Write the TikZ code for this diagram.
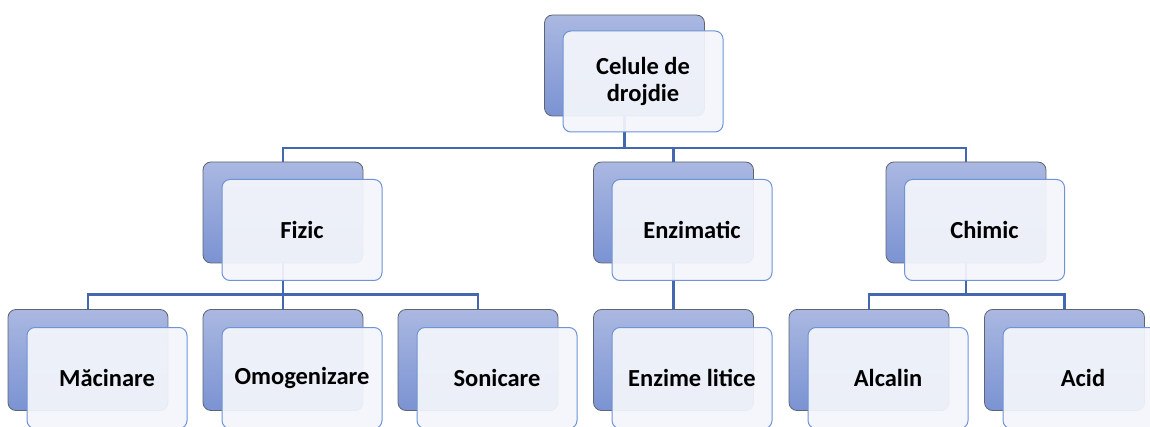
\documentclass[tikz,border=0pt]{standalone}
\usepackage{fontspec}
\setmainfont{Carlito}
\definecolor{backtop}{HTML}{AAB8E1}
\definecolor{backbot}{HTML}{7B93D3}
\definecolor{backborder}{HTML}{5E6470}
\definecolor{frontfill}{HTML}{F4F6FB}
\definecolor{frontborder}{HTML}{6E93D6}
\definecolor{linecol}{HTML}{4468B0}
\tikzset{
  backbox/.style={rounded corners=8pt, draw=backborder, line width=0.8pt,
    top color=backtop, bottom color=backbot, minimum width=160pt,
    minimum height=101pt, inner sep=0pt},
  frontbox/.style={rounded corners=8pt, draw=frontborder, line width=1pt,
    fill=frontfill, fill opacity=0.93, text opacity=1, minimum width=160pt,
    minimum height=101pt, inner sep=0pt, align=center,
    font=\bfseries\fontsize{24.5}{27}\selectfont},
  conn/.style={draw=linecol, line width=2.5pt}
}
\begin{document}
\begin{tikzpicture}[x=1pt, y=-1pt]
\useasboundingbox (0,0) rectangle (1150,427);
\fill[white] (0,0) rectangle (1150,427);
% back boxes
\node[backbox] (Tb) at (624.5,65.5) {};
\node[backbox] (Fb) at (283,212.5) {};
\node[backbox] (Eb) at (673.5,212.5) {};
\node[backbox] (Cb) at (966,212.5) {};
\node[backbox] (Mb) at (88,360) {};
\node[backbox] (Ob) at (283,360) {};
\node[backbox] (Sb) at (478,360) {};
\node[backbox] (Lb) at (673.5,360) {};
\node[backbox] (Ab) at (869,360) {};
\node[backbox] (Db) at (1064.5,360) {};
% buses
\coordinate (bus1) at (0,148);
\coordinate (bus2) at (0,294.5);
% connectors
\draw[conn] (Tb.south) -- (Tb.south |- bus1) -| (Fb.north);
\draw[conn] (Tb.south) -- (Tb.south |- bus1) -| (Eb.north);
\draw[conn] (Tb.south) -- (Tb.south |- bus1) -| (Cb.north);
\draw[conn] (Fb.south) -- (Fb.south |- bus2) -| (Mb.north);
\draw[conn] (Fb.south) -- (Fb.south |- bus2) -| (Ob.north);
\draw[conn] (Fb.south) -- (Fb.south |- bus2) -| (Sb.north);
\draw[conn] (Eb.south) -- (Lb.north);
\draw[conn] (Cb.south) -- (Cb.south |- bus2) -| (Ab.north);
\draw[conn] (Cb.south) -- (Cb.south |- bus2) -| (Db.north);
% front boxes
\node[frontbox] (Tf) at (643,81.5) {Celule de\\drojdie};
\node[frontbox] (Ff) at (302,230) {Fizic};
\node[frontbox] (Ef) at (692,230) {Enzimatic};
\node[frontbox] (Cf) at (984.5,230) {Chimic};
\node[frontbox] (Mf) at (107,378) {Măcinare};
\node[frontbox] (Of) at (302,378) {Omogenizare};
\node[frontbox] (Sf) at (497,378) {Sonicare};
\node[frontbox] (Lf) at (692,378) {Enzime litice};
\node[frontbox] (Af) at (888,378) {Alcalin};
\node[frontbox] (Df) at (1083,378) {Acid};
\end{tikzpicture}
\end{document}
